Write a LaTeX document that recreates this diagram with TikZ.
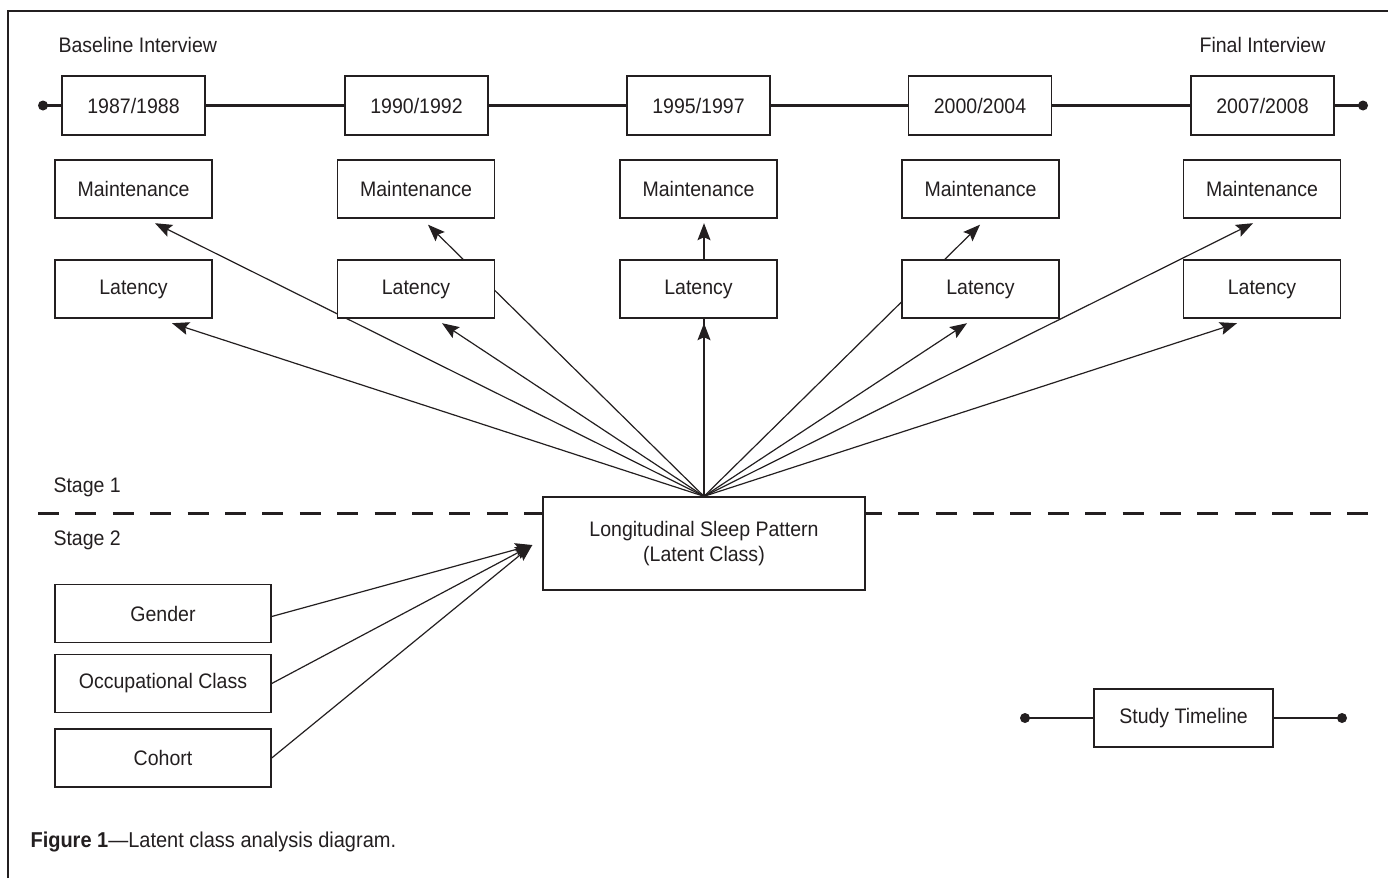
\documentclass[tikz,border=0pt]{standalone}
\usepackage{fontspec}
\setmainfont[FakeStretch=0.93]{Liberation Sans}
\usetikzlibrary{arrows.meta,backgrounds,calc}
\definecolor{ink}{HTML}{231F20}
\begin{document}
\begin{tikzpicture}[x=1pt,y=-1pt,
  every node/.style={text=ink},
  txt/.style={font=\fontsize{21}{25}\selectfont},
  box/.style={draw=ink, line width=1.4pt, fill=white, inner sep=0pt, txt},
  yearbox/.style={box, minimum width=143pt, minimum height=59pt},
  varbox/.style={box, minimum width=157pt, minimum height=58pt},
  covbox/.style={box, minimum width=216pt, minimum height=58pt},
  arr/.style={draw=ink, line width=1.2pt, -{Stealth[length=17pt,width=13pt,inset=3pt]}},
  tline/.style={draw=ink, line width=2.6pt},
  dot/.style={fill=ink}
]
\useasboundingbox (0,0) rectangle (1388,878);
% frame
\draw[ink, line width=1.4pt] (8,878) -- (8,11) -- (1388,11);

% labels
\node[txt, anchor=west] (base) at (55,45) {Baseline Interview};
\node[txt, anchor=east] (final) at (1329,45) {Final Interview};
\node[txt, anchor=west] (st1) at (50,487) {Stage 1};
\node[txt, anchor=west] (st2) at (50,540) {Stage 2};
\node[anchor=west, font=\fontsize{21.5}{25}\selectfont] (cap) at (27,842) {\textbf{Figure 1}---Latent class analysis diagram.};

% timeline
\coordinate (tl) at (43,105.5);
\coordinate (tr) at (1363,105.5);
\node[yearbox] (t1) at (133.5,105.5) {1987/1988};
\node[yearbox] (t2) at (416.5,105.5) {1990/1992};
\node[yearbox] (t3) at (698.5,105.5) {1995/1997};
\node[yearbox] (t4) at (980,105.5) {2000/2004};
\node[yearbox] (t5) at (1262.5,105.5) {2007/2008};

% maintenance and latency
\node[varbox] (m1) at (133.5,189) {Maintenance};
\node[varbox] (m2) at (416,189) {Maintenance};
\node[varbox] (m3) at (698.5,189) {Maintenance};
\node[varbox] (m4) at (980.5,189) {Maintenance};
\node[varbox] (m5) at (1262,189) {Maintenance};
\node[varbox] (l1) at (133.5,289) {Latency};
\node[varbox] (l2) at (416,289) {Latency};
\node[varbox] (l3) at (698.5,289) {Latency};
\node[varbox] (l4) at (980.5,289) {Latency};
\node[varbox] (l5) at (1262,289) {Latency};

% latent class
\node[box, minimum width=322pt, minimum height=93pt, align=center] (lc) at (704,543.5)
  {Longitudinal Sleep Pattern\\(Latent Class)};

% covariates
\node[covbox] (gen) at (163,613.5) {Gender};
\node[covbox] (occ) at (163,683.5) {Occupational Class};
\node[covbox] (coh) at (163,758) {Cohort};

% legend
\node[box, minimum width=179pt, minimum height=58pt] (stl) at (1183.5,718) {Study Timeline};
\coordinate (sl) at (1025,718);
\coordinate (sr) at (1342,718);

\begin{scope}[on background layer]
  \draw[tline] (tl) -- (tr);
  \draw[tline] (sl) -- (sr);
  \draw[ink, line width=3pt, dash pattern=on 21pt off 16.4pt] (38,513) -- (1369,513);
  \coordinate (src) at (lc.north);
  \draw[arr] (src) -- ([xshift=38.5pt,yshift=-4.5pt]l1.south);
  \draw[arr] (src) -- ([xshift=21.5pt,yshift=-4.5pt]m1.south);
  \draw[arr] (src) -- ([xshift=26pt,yshift=-4.5pt]l2.south);
  \draw[arr] (src) -- ([xshift=12pt,yshift=-6pt]m2.south);
  \draw[arr] (src) -- ([yshift=-4.5pt]src |- l3.south);
  \draw[arr] (src) -- ([yshift=-4.5pt]src |- m3.south);
  \draw[arr] (src) -- ([xshift=-13.5pt,yshift=-4.5pt]l4.south);
  \draw[arr] (src) -- ([xshift=-0.5pt,yshift=-6pt]m4.south);
  \draw[arr] (src) -- ([xshift=-25pt,yshift=-4.5pt]l5.south);
  \draw[arr] (src) -- ([xshift=-9pt,yshift=-4.5pt]m5.south);
  \coordinate (tip) at ([xshift=-10pt,yshift=-1.5pt]lc.west);
  \draw[arr] ([yshift=-3pt]gen.east) -- (tip);
  \draw[arr] (occ.east) -- (tip);
  \draw[arr] (coh.east) -- (tip);
\end{scope}

\fill[dot] (tl) circle[radius=5pt];
\fill[dot] (tr) circle[radius=5pt];
\fill[dot] (sl) circle[radius=5pt];
\fill[dot] (sr) circle[radius=5pt];
\end{tikzpicture}
\end{document}
